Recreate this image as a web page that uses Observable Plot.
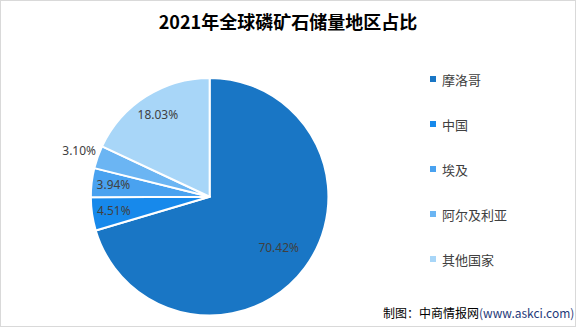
<!DOCTYPE html>
<html>
<head>
<meta charset="utf-8">
<script src="https://cdn.jsdelivr.net/npm/d3@7"></script>
<script src="https://cdn.jsdelivr.net/npm/@observablehq/plot@0.6"></script>
<style>
  html, body { margin: 0; padding: 0; background: #fff; }
  #chart { position: relative; width: 574px; height: 325px; border: 1px solid #d9d9d9; overflow: hidden; font-family: "Noto Sans CJK SC", "Noto Sans", sans-serif; }
  #title { position: absolute; left: 0; top: 6px; width: 574px; text-align: center; font-family: "Noto Sans CJK SC", sans-serif; font-weight: bold; font-size: 18px; color: #000; line-height: 28px; }
  #plot { position: absolute; left: -1px; top: 39px; }
  #leg { position: absolute; left: 429px; top: 70px; }
  #leg, #leg * { font-family: "Noto Sans CJK SC", sans-serif !important; font-size: 13px !important; color: #404040 !important; }
  #leg div[class$="-swatch"] { height: 16px; margin: 0 0 29px 0 !important; padding: 0 !important; display: flex; align-items: center; }
  #leg svg { margin-right: 6px !important; }
  #source { position: absolute; left: 382px; top: 304px; font-size: 12px; line-height: 16px; white-space: nowrap; color: #000; font-family: "Noto Sans CJK SC", sans-serif; }
  #source span { color: #1f3a7a; }
</style>
</head>
<body>
<div id="chart">
  <div id="title"></div>
  <div id="plot"></div>
  <div id="leg"></div>
  <div id="source">制图：中商情报网<span>(www.askci.com)</span></div>
</div>
<script>
// ---- data ----
const titleText = "2021年全球磷矿石储量地区占比";
const regions = ["摩洛哥", "中国", "埃及", "阿尔及利亚", "其他国家"];
const shares = [70.42, 4.51, 3.94, 3.10, 18.03];
const colors = ["#1976c5", "#1789eb", "#49a2f0", "#6bb5f3", "#a8d6f8"];

// ---- layout (pixels) ----
const W = 576, H = 287, CX = 210, CY = 157, R = 119;

document.getElementById("title").textContent = titleText;

const table = regions.map((name, i) => ({name, value: shares[i], color: colors[i]}));
const arcs = d3.pie().sort(null).value(d => d.value).startAngle(0).endAngle(2 * Math.PI)(table);

// label radius (in radius units), chosen by slice size
const labelK = v => v > 50 ? 0.72 : v < 3.5 ? 1.17 : 0.82;
const labels = arcs.map(a => {
  const mid = (a.startAngle + a.endAngle) / 2;
  const k = labelK(a.data.value);
  return {x: k * Math.sin(mid), y: k * Math.cos(mid), text: a.data.value.toFixed(2) + "%"};
});

const pieMark = (index, scales) => {
  const {x, y} = scales;
  const r = x(1) - x(0);
  const arc = d3.arc().innerRadius(0).outerRadius(r);
  const g = d3.create("svg:g").attr("transform", `translate(${x(0)},${y(0)})`);
  g.selectAll("path").data(arcs).join("path")
    .attr("d", arc)
    .attr("fill", d => d.data.color)
    .attr("stroke", "#fff")
    .attr("stroke-width", 2)
    .attr("stroke-linejoin", "round");
  return g.node();
};

const plot = Plot.plot({
  width: W,
  height: H,
  margin: 0,
  x: {domain: [-CX / R, (W - CX) / R], range: [0, W], axis: null},
  y: {domain: [-(H - CY) / R, CY / R], range: [H, 0], axis: null},
  marks: [
    pieMark,
    Plot.text(labels, {x: "x", y: "y", text: "text", fill: "#404040", fontSize: 12,
      fontFamily: "Noto Sans, DejaVu Sans, sans-serif"})
  ]
});
document.getElementById("plot").appendChild(plot);

const legend = Plot.legend({
  color: {type: "ordinal", domain: regions, range: colors},
  legend: "swatches",
  columns: 1,
  swatchSize: 6
});
document.getElementById("leg").appendChild(legend);
</script>
</body>
</html>
